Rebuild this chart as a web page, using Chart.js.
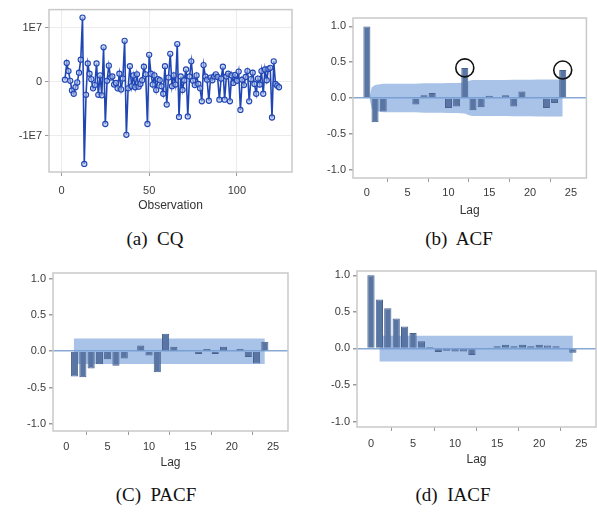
<!DOCTYPE html>
<html>
<head>
<meta charset="utf-8">
<script src="https://cdn.jsdelivr.net/npm/chart.js@4/dist/chart.umd.min.js"></script>
<style>
  body { margin: 0; background: #fff; }
  #page { position: relative; width: 597px; height: 514px; overflow: hidden; background: #fff; }
  canvas { position: absolute; }
  .cap { position: absolute; width: 200px; text-align: center; white-space: pre;
         font-family: "Liberation Serif", "DejaVu Serif", serif; font-size: 19px; color: #111; }
</style>
</head>
<body>
<div id="page">
  <canvas id="cqChart" width="300" height="225" style="left:0;top:0"></canvas>
  <canvas id="acfChart" width="297" height="225" style="left:300px;top:0"></canvas>
  <canvas id="pacfChart" width="300" height="225" style="left:0;top:250px"></canvas>
  <canvas id="iacfChart" width="297" height="225" style="left:300px;top:250px"></canvas>
  <div class="cap" style="left:55px;top:228px">(a)  CQ</div>
  <div class="cap" style="left:359px;top:228px">(b)  ACF</div>
  <div class="cap" style="left:56px;top:484px">(C)  PACF</div>
  <div class="cap" style="left:353px;top:484px">(d)  IACF</div>
</div>
<script>
// (a) CQ series, observation 2..124, values in millions
const cqFirstObs = 2;
const cqMillions = [
  0.4, 3.5, 2.0, 0.2, -1.6, -2.2, -1.0, -0.1, 1.7, 4.1,
  11.9, -15.2, -2.4, 3.4, 1.5, 0.5, -1.2, -0.6, 3.4, -2.4,
  1.2, -2.5, 6.4, -7.8, 0.2, 3.0, 0.8, 1.0, -0.5, -0.2,
  -1.2, 1.5, -1.4, 0.6, 7.6, -9.8, -1.2, 2.9, -0.8, 1.2,
  -1.0, 1.4, -0.9, -0.4, 0.3, 2.8, 1.4, -7.8, 5.0, 1.5,
  -0.5, 1.2, -1.5, 0.5, 0.3, -0.8, -2.2, 2.9, -4.2, 0.8,
  5.2, -0.8, 1.2, -0.5, 7.0, -6.5, 1.0, -1.5, 0.3, 2.3,
  -6.4, 1.0, 3.8, 0.2, -0.6, 1.2, -0.4, -1.2, -3.6, 3.1,
  1.0, 0.4, -3.5, 0.8, 0.3, 1.0, 1.4, 0.9, -3.3, 0.6,
  2.8, -3.3, 1.0, 1.5, -3.6, 1.2, -0.2, 1.3, 0.2, 1.9,
  -5.2, 0.4, -0.6, 0.9, 2.0, -3.6, 0.5, 1.7, -0.4, -2.2,
  0.6, -0.5, 2.0, -2.2, 2.3, 0.3, 2.4, 2.6, -6.6, 3.8,
  -0.4, -0.7, -1.0
];
const cqXTicks = [0, 50, 100];
const cqYTicks = [-1e7, 0, 1e7];
const cqYLabels = ['-1E7', '0', '1E7'];

// (b) ACF
const acfLags = [0,1,2,3,4,5,6,7,8,9,10,11,12,13,14,15,16,17,18,19,20,21,22,23,24];
const acfValues = [1.0, -0.34, -0.19, 0.01, 0.01, 0.01, -0.09, 0.04, 0.07, 0.0, -0.14, -0.12,
  0.42, -0.17, -0.13, 0.03, 0.01, 0.04, -0.12, 0.09, 0.0, 0.0, -0.14, -0.07, 0.39];
const acfBandLags = [0.3, 0.6, 1, 2, 3, 4, 5, 6, 7, 8, 9, 10, 11, 12, 12.6, 13, 14, 15, 16, 17, 18, 19, 20, 21, 22, 23, 24];
const acfBandUpper = [0, 0.15, 0.18, 0.2, 0.2, 0.2, 0.2, 0.2, 0.205, 0.205, 0.205, 0.21, 0.21, 0.215, 0.245, 0.25,
  0.25, 0.25, 0.25, 0.25, 0.255, 0.255, 0.255, 0.26, 0.26, 0.26, 0.26];
const acfBandLower = [0, -0.15, -0.18, -0.2, -0.2, -0.2, -0.2, -0.2, -0.205, -0.205, -0.205, -0.21, -0.21, -0.215, -0.245, -0.25,
  -0.25, -0.25, -0.25, -0.25, -0.255, -0.255, -0.255, -0.26, -0.26, -0.26, -0.26];
const acfCircledLags = [12, 24];

// (c) PACF
const pacfLags = [1,2,3,4,5,6,7,8,9,10,11,12,13,14,15,16,17,18,19,20,21,22,23,24];
const pacfValues = [-0.35, -0.36, -0.24, -0.18, -0.11, -0.2, -0.1, 0.01, 0.08, -0.06, -0.29, 0.24,
  0.06, 0.0, -0.01, -0.04, 0.03, -0.04, 0.06, -0.01, 0.03, -0.08, -0.17, 0.13];
const pacfBandLags = [0.9, 24];
const pacfBandUpper = [0.175, 0.175];
const pacfBandLower = [-0.178, -0.178];

// (d) IACF
const iacfLags = [0,1,2,3,4,5,6,7,8,9,10,11,12,13,14,15,16,17,18,19,20,21,22,23,24];
const iacfValues = [1.0, 0.67, 0.55, 0.41, 0.30, 0.21, 0.10, 0.02, -0.05, -0.03, -0.04, -0.04,
  -0.09, -0.01, 0.01, 0.03, 0.05, 0.03, 0.05, 0.03, 0.05, 0.04, 0.03, 0.0, -0.06];
const iacfBandLags = [1, 24];
const iacfBandUpper = [0.172, 0.172];
const iacfBandLower = [-0.18, -0.18];

const lagTicks = [0, 5, 10, 15, 20, 25];
const corrTicks = [-1, -0.5, 0, 0.5, 1];

const BAR = 'rgb(88,117,163)';
const BAR_EDGE = 'rgb(72,98,142)';
const BAND = 'rgba(110,155,215,0.6)';
const ZERO = 'rgb(135,168,212)';
const FRAME = '#c9c9c9';
const TICK = '#9a9a9a';

Chart.defaults.font.family = "'Liberation Sans', Arial, sans-serif";
Chart.defaults.font.size = 11;
Chart.defaults.color = '#3a3a3a';
Chart.defaults.animation = false;
Chart.defaults.plugins.legend.display = false;
Chart.defaults.plugins.tooltip.enabled = false;

const framePlugin = {
  id: 'frame',
  afterDatasetsDraw(chart) {
    const a = chart.chartArea, ctx = chart.ctx;
    ctx.save();
    ctx.strokeStyle = FRAME;
    ctx.lineWidth = 1.5;
    ctx.strokeRect(a.left, a.top, a.right - a.left, a.bottom - a.top);
    ctx.restore();
  }
};

function setTicks(values) {
  return scale => { scale.ticks = values.map(v => ({ value: v })); };
}

function pairs(xs, ys) {
  return xs.map((x, i) => ({ x: x, y: ys[i] }));
}

// box: chart area inside the canvas; tickPad / titlePad tune the x-axis text rows
function corrChart(id, box, range, lags, values, bandLags, upper, lower, extra) {
  const canvas = document.getElementById(id);
  const datasets = [
    {
      type: 'bar', data: pairs(lags, values),
      backgroundColor: BAR, borderColor: BAR_EDGE, borderWidth: 1,
      barPercentage: 0.86, categoryPercentage: 1, order: 1
    },
    {
      type: 'line', data: pairs(bandLags, upper), borderColor: 'transparent',
      pointRadius: 0, fill: '+1', backgroundColor: BAND, order: 3
    },
    {
      type: 'line', data: pairs(bandLags, lower), borderColor: 'transparent',
      pointRadius: 0, fill: false, order: 3
    }
  ].concat(extra || []);

  return new Chart(canvas, {
    type: 'bar',
    data: { datasets: datasets },
    options: {
      responsive: false,
      layout: { padding: { top: box.top, right: canvas.width - box.right, left: 0, bottom: 0 } },
      scales: {
        x: {
          type: 'linear', min: range.xMin, max: range.xMax, offset: false,
          afterBuildTicks: setTicks(lagTicks),
          afterFit: s => { s.height = canvas.height - box.bottom; },
          grid: { drawOnChartArea: false, tickLength: 4, tickColor: TICK },
          border: { display: false },
          ticks: { padding: box.tickPad, autoSkip: false, maxRotation: 0 },
          title: { display: true, text: 'Lag', font: { size: 12 }, color: '#333',
                   padding: { top: 0, bottom: box.titlePad } }
        },
        y: {
          min: range.yMin, max: range.yMax,
          afterBuildTicks: setTicks(corrTicks),
          afterFit: s => { s.width = box.left; },
          grid: {
            color: c => (c.tick && c.tick.value === 0 ? ZERO : 'transparent'),
            lineWidth: 1.5, tickLength: 4, tickColor: TICK
          },
          border: { display: false },
          ticks: { padding: 3, callback: v => v.toFixed(1) }
        }
      }
    },
    plugins: [framePlugin]
  });
}

// (a) time series plot
(function () {
  const canvas = document.getElementById('cqChart');
  const box = { left: 49, top: 8, right: 292, bottom: 172 };
  const points = cqMillions.map((v, i) => ({ x: cqFirstObs + i, y: v * 1e6 }));
  new Chart(canvas, {
    type: 'line',
    data: {
      datasets: [{
        data: points,
        borderColor: 'rgb(32,70,180)', borderWidth: 1.6,
        pointRadius: 2.6, pointBorderWidth: 1.1,
        pointBorderColor: 'rgb(32,70,180)', pointBackgroundColor: 'rgba(175,192,235,0.6)',
        tension: 0
      }]
    },
    options: {
      responsive: false,
      layout: { padding: { top: box.top, right: canvas.width - box.right, left: 0, bottom: 0 } },
      scales: {
        x: {
          type: 'linear', min: -7.1, max: 131.4,
          afterBuildTicks: setTicks(cqXTicks),
          afterFit: s => { s.height = canvas.height - box.bottom; },
          grid: { color: '#ececec', tickLength: 4, tickColor: TICK },
          border: { display: false },
          ticks: { padding: 8, autoSkip: false, maxRotation: 0 },
          title: { display: true, text: 'Observation', font: { size: 12 }, color: '#333',
                   padding: { top: 0, bottom: 12 } }
        },
        y: {
          min: -1.669e7, max: 1.338e7,
          afterBuildTicks: setTicks(cqYTicks),
          afterFit: s => { s.width = box.left; },
          grid: { color: '#ececec', tickLength: 4, tickColor: TICK },
          border: { display: false },
          ticks: { padding: 3, callback: v => cqYLabels[cqYTicks.indexOf(v)] }
        }
      }
    },
    plugins: [framePlugin]
  });
})();

corrChart('acfChart',
  { left: 53, top: 18, right: 296, bottom: 178, tickPad: 4, titlePad: 7 },
  { xMin: -1.7, xMax: 26.9, yMin: -1.117, yMax: 1.117 },
  acfLags, acfValues, acfBandLags, acfBandUpper, acfBandLower,
  [{
    type: 'line',
    data: acfCircledLags.map(l => ({ x: l, y: acfValues[acfLags.indexOf(l)] })),
    showLine: false, pointRadius: 9, pointBorderWidth: 1.6,
    pointBorderColor: '#111', pointBackgroundColor: 'transparent', order: 0
  }]);

corrChart('pacfChart',
  { left: 53, top: 23, right: 288, bottom: 181, tickPad: 5, titlePad: 5 },
  { xMin: -1.61, xMax: 26.8, yMin: -1.10, yMax: 1.078 },
  pacfLags, pacfValues, pacfBandLags, pacfBandUpper, pacfBandLower);

corrChart('iacfChart',
  { left: 57, top: 21, right: 296, bottom: 177, tickPad: 6, titlePad: 8 },
  { xMin: -1.66, xMax: 26.75, yMin: -1.074, yMax: 1.059 },
  iacfLags, iacfValues, iacfBandLags, iacfBandUpper, iacfBandLower);
</script>
</body>
</html>
